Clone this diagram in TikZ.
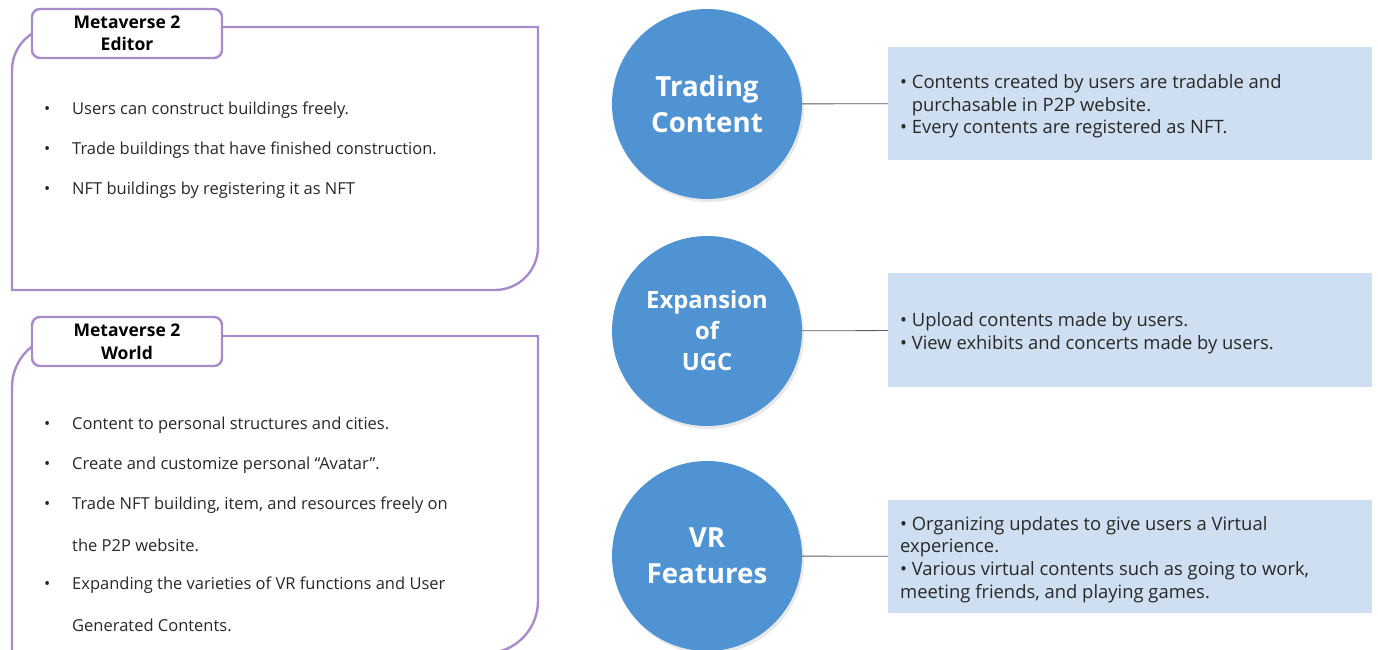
\documentclass[tikz,border=0pt]{standalone}
\usepackage{fontspec}
\setmainfont{Open Sans}
\usetikzlibrary{shadows}
\definecolor{panelline}{RGB}{168,140,202}
\definecolor{discfill}{RGB}{80,147,211}
\definecolor{notefill}{RGB}{205,223,240}
\definecolor{inktext}{RGB}{40,40,40}
\definecolor{linkline}{RGB}{90,90,90}
\begin{document}
\begin{tikzpicture}[x=1pt,y=-1pt,
  panel/.style={draw=panelline, line width=2.4pt},
  tag/.style={draw=panelline, line width=2.4pt, fill=white, rounded corners=8pt,
    minimum width=190pt, minimum height=49pt, align=center, inner sep=0pt,
    font=\fontsize{17.5}{22.5}\selectfont\bfseries, text=black},
  item/.style={anchor=west, inner sep=0pt, text=inktext,
    font=\fontsize{16.5}{18}\selectfont},
  disc/.style={circle, fill=discfill, minimum size=190pt, inner sep=0pt,
    text=white, align=center,
    drop shadow={opacity=0.18, shadow xshift=2pt, shadow yshift=-3pt}},
  note/.style={fill=notefill, minimum width=484pt, minimum height=113pt, inner sep=0pt},
  notetext/.style={anchor=west, inner sep=0pt, align=left, text=inktext,
    font=\fontsize{18.4}{22.7}\selectfont},
  link/.style={draw=linkline, line width=0.8pt}
]
\useasboundingbox (0,0) rectangle (1378,650);

% --- Editor panel ---
\draw[panel] (12,290) -- (12,70) .. controls (12,46.3) and (31.3,27) .. (55,27)
  -- (538,27) -- (538,247) .. controls (538,270.7) and (518.7,290) .. (495,290) -- cycle;
\node[tag] (editor) at (127,33.5) {Metaverse 2\\Editor};
\node[item] (e1) at (44,110) {\makebox[28pt][l]{•}Users can construct buildings freely.};
\node[item] (e2) at (44,150) {\makebox[28pt][l]{•}Trade buildings that have finished construction.};
\node[item] (e3) at (44,190) {\makebox[28pt][l]{•}NFT buildings by registering it as NFT};

% --- World panel ---
\draw[panel] (12,653) -- (12,387) .. controls (12,358.8) and (34.8,336) .. (63,336)
  -- (538,336) -- (538,601) .. controls (538,629.2) and (515.2,653) .. (487,653) -- cycle;
\node[tag] (world) at (127,341.5) {Metaverse 2\\World};
\node[item] (w1) at (44,425) {\makebox[28pt][l]{•}Content to personal structures and cities.};
\node[item] (w2) at (44,465) {\makebox[28pt][l]{•}Create and customize personal “Avatar”.};
\node[item] (w3) at (44,505) {\makebox[28pt][l]{•}Trade NFT building, item, and resources freely on};
\node[item] (w3b) at (44,545) {\hspace*{28pt}the P2P website.};
\node[item] (w4) at (44,585) {\makebox[28pt][l]{•}Expanding the varieties of VR functions and User};
\node[item] (w4b) at (44,625) {\hspace*{28pt}Generated Contents.};

% --- Feature discs ---
\node[disc, font=\fontsize{27.7}{36}\selectfont\bfseries] (c1) at (707,104) {\raisebox{-2pt}{Trading}\\\raisebox{-2pt}{Content}};
\node[disc, font=\fontsize{23.8}{31}\selectfont\bfseries] (c2) at (707,331) {Expansion\\of\\UGC};
\node[disc, font=\fontsize{27.7}{36}\selectfont\bfseries] (c3) at (707,556) {\raisebox{-3pt}{VR}\\\raisebox{-3pt}{Features}};

% --- Description boxes ---
\node[note] (b1) at (1130,103.5) {};
\node[note, minimum height=114pt] (b2) at (1130,330) {};
\node[note] (b3) at (1130,556.5) {};

\node[notetext] (t1) at (900,106.5) {• Contents created by users are tradable and\\
  \hphantom{• }purchasable in P2P website.\\• Every contents are registered as NFT.};
\node[notetext] (t2) at (900,333.5) {• Upload contents made by users.\\• View exhibits and concerts made by users.};
\node[notetext] (t3) at (900,559.5) {• Organizing updates to give users a Virtual\\experience.\\
  • Various virtual contents such as going to work,\\meeting friends, and playing games.};

% --- Connectors ---
\draw[link] (c1) -- (b1);
\draw[link] (c2) -- (b2);
\draw[link] (c3) -- (b3);
\end{tikzpicture}
\end{document}
